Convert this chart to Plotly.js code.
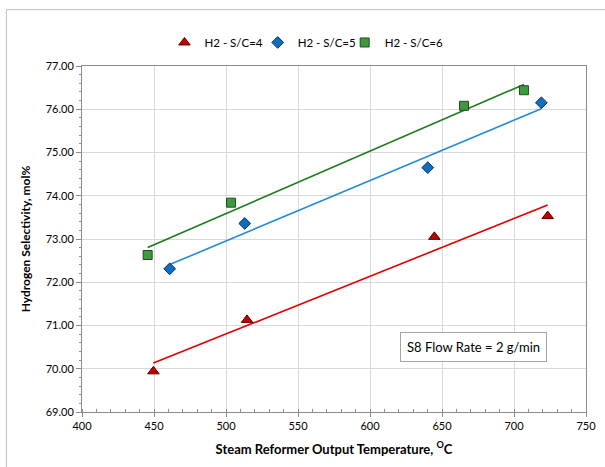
<!DOCTYPE html>
<html>
<head>
<meta charset="utf-8">
<script src="https://cdn.plot.ly/plotly-3.0.1.min.js"></script>
<style>html,body{margin:0;padding:0;background:#fff;}#chart{width:605px;height:467px;}</style>
</head>
<body>
<div id="chart"></div>
<script>
// Data
const seriesNames = ["H2 - S/C=4", "H2 - S/C=5", "H2 - S/C=6"];
const temp_sc4 = [449.6, 514.6, 644.7, 723.4];
const sel_sc4  = [69.94, 71.13, 73.05, 73.53];
const temp_sc5 = [460.9, 513.0, 640.1, 719.0];
const sel_sc5  = [72.31, 73.36, 74.65, 76.15];
const temp_sc6 = [445.6, 503.5, 665.3, 706.9];
const sel_sc6  = [72.63, 73.84, 76.08, 76.44];
const xTicks = [400, 450, 500, 550, 600, 650, 700, 750];
const yTicks = [69, 70, 71, 72, 73, 74, 75, 76, 77];
const noteText = "S8 Flow Rate = 2 g/min";

function linFit(xs, ys) {
  const n = xs.length;
  const mx = xs.reduce((a, b) => a + b, 0) / n;
  const my = ys.reduce((a, b) => a + b, 0) / n;
  let sxy = 0, sxx = 0;
  for (let i = 0; i < n; i++) { sxy += (xs[i] - mx) * (ys[i] - my); sxx += (xs[i] - mx) ** 2; }
  const m = sxy / sxx, b = my - m * mx;
  const x0 = Math.min(...xs), x1 = Math.max(...xs);
  return { x: [x0, x1], y: [m * x0 + b, m * x1 + b] };
}

const sets = [
  { x: temp_sc4, y: sel_sc4, name: seriesNames[0], sym: "triangle-up", fill: "#c00000", edge: "#5a0000", line: "#e00000", size: 10, leg: "legend",  lx: 0.1637 },
  { x: temp_sc5, y: sel_sc5, name: seriesNames[1], sym: "diamond",     fill: "#0a6fc2", edge: "#06305a", line: "#2389db", size: 9,  leg: "legend2", lx: 0.3486 },
  { x: temp_sc6, y: sel_sc6, name: seriesNames[2], sym: "square",      fill: "#3f9a3f", edge: "#1d4d1d", line: "#1a7d1a", size: 9,  leg: "legend3", lx: 0.5212 }
];

const traces = [];
sets.forEach(s => {
  const f = linFit(s.x, s.y);
  traces.push({ x: f.x, y: f.y, mode: "lines", type: "scatter", showlegend: false, hoverinfo: "skip",
    line: { color: s.line, width: 1.6 } });
});
sets.forEach(s => {
  traces.push({ x: s.x, y: s.y, mode: "markers", type: "scatter", name: s.name, legend: s.leg,
    marker: { symbol: s.sym, size: s.size, color: s.fill, line: { color: s.edge, width: 1 } } });
});

const F = "Lato, 'Open Sans', sans-serif";
const legBase = (x) => ({ orientation: "h", x: x, xanchor: "left", y: 1.068, yanchor: "middle",
  font: { family: F, size: 11.5, color: "#000" }, bgcolor: "rgba(0,0,0,0)", borderwidth: 0 });

const layout = {
  width: 605, height: 467,
  margin: { l: 82, r: 19, t: 66, b: 55 },
  paper_bgcolor: "#ffffff", plot_bgcolor: "#ffffff",
  font: { family: F, size: 11, color: "#000" },
  showlegend: true,
  legend: legBase(sets[0].lx),
  legend2: legBase(sets[1].lx),
  legend3: legBase(sets[2].lx),
  xaxis: {
    range: [400, 750], tickvals: xTicks, ticktext: xTicks.map(String),
    showgrid: true, gridcolor: "#d9d9d9", gridwidth: 1,
    showline: true, linecolor: "#8c8c8c", linewidth: 1, mirror: true,
    ticks: "outside", ticklen: 4, tickcolor: "#8c8c8c",
    minor: { dtick: 10, ticks: "inside", ticklen: 3, tickcolor: "#8c8c8c", showgrid: false },
    zeroline: false, tickfont: { family: F, size: 11 },
    title: { text: "<b>Steam Reformer Output Temperature, <sup>O</sup>C</b>", font: { family: F, size: 13 }, standoff: 13 }
  },
  yaxis: {
    range: [69, 77], tickvals: yTicks, ticktext: yTicks.map(v => v.toFixed(2)),
    showgrid: true, gridcolor: "#d9d9d9", gridwidth: 1,
    showline: true, linecolor: "#8c8c8c", linewidth: 1, mirror: true,
    ticks: "outside", ticklen: 5, tickcolor: "#8c8c8c",
    minor: { dtick: 0.2, ticks: "outside", ticklen: 2, tickcolor: "#8c8c8c", showgrid: false },
    zeroline: false, tickfont: { family: F, size: 11 },
    title: { text: "<b>Hydrogen Selectivity, mol%</b>", font: { family: F, size: 12 }, standoff: 12 }
  },
  annotations: [{
    xref: "paper", yref: "paper", x: 0.777, y: 0.188, xanchor: "center", yanchor: "middle",
    text: noteText, showarrow: false, font: { family: F, size: 13, color: "#000" },
    bgcolor: "#ffffff", bordercolor: "#a6a6a6", borderwidth: 1, borderpad: 6
  }],
  shapes: [{
    type: "rect", xref: "paper", yref: "paper", x0: -0.15, x1: 1.2, y0: -0.3, y1: 1.163,
    line: { color: "#bfbfbf", width: 1 }, fillcolor: "rgba(0,0,0,0)", layer: "below"
  }]
};

Plotly.newPlot("chart", traces, layout, { displayModeBar: false, staticPlot: true });
</script>
</body>
</html>
